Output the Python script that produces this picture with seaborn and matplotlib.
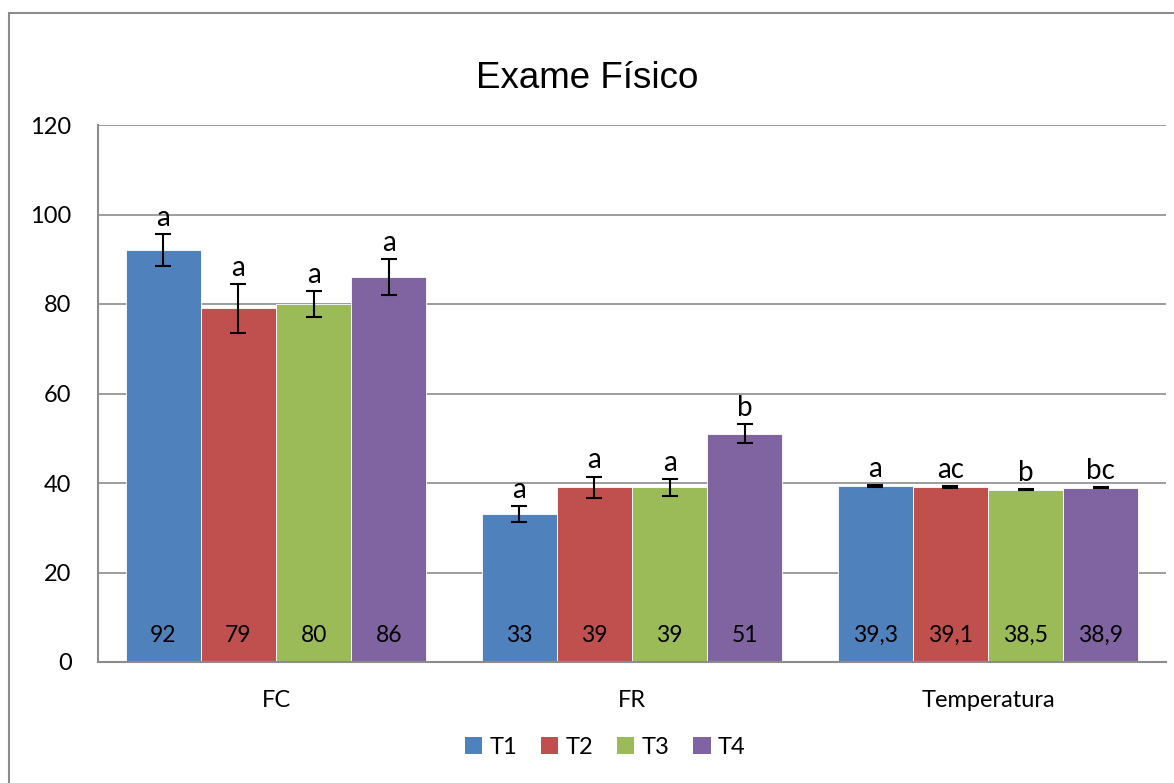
import matplotlib
matplotlib.use("Agg")
import matplotlib.pyplot as plt
import seaborn as sns
import pandas as pd
from matplotlib.patches import Rectangle, Patch

categories = ["FC", "FR", "Temperatura"]
treatments = ["T1", "T2", "T3", "T4"]
fc_values = [92, 79, 80, 86]
fr_values = [33, 39, 39, 51]
temp_values = [39.3, 39.1, 38.5, 38.9]
fc_err = [3.6, 5.5, 2.8, 4.0]
fr_err = [1.8, 2.4, 1.9, 2.1]
temp_err = [0.15, 0.12, 0.1, 0.12]
fc_letters = ["a", "a", "a", "a"]
fr_letters = ["a", "a", "a", "b"]
temp_letters = ["a", "ac", "b", "bc"]
value_labels_fc = ["92", "79", "80", "86"]
value_labels_fr = ["33", "39", "39", "51"]
value_labels_temp = ["39,3", "39,1", "38,5", "38,9"]
colors = ["#4F81BD", "#C0504D", "#9BBB59", "#8064A2"]

rows = []
groups = [(fc_values, fc_err, fc_letters, value_labels_fc),
          (fr_values, fr_err, fr_letters, value_labels_fr),
          (temp_values, temp_err, temp_letters, value_labels_temp)]
for cat, (vals, errs, lets, labs) in zip(categories, groups):
    for t, v, e, l, lab in zip(treatments, vals, errs, lets, labs):
        rows.append(dict(cat=cat, trat=t, val=v, err=e, letter=l, label=lab))
df = pd.DataFrame(rows)

sns.set_theme(style="white")
plt.rcParams['font.family'] = ['Lato', 'DejaVu Sans']
plt.rcParams['text.color'] = 'black'
plt.rcParams['xtick.color'] = 'black'
plt.rcParams['ytick.color'] = 'black'

fig = plt.figure(figsize=(11.74, 7.83), dpi=100)
ax = fig.add_axes([98/1174, 1-662/783, (1166-98)/1174, (662-125)/783])

sns.barplot(data=df, x="cat", y="val", hue="trat", order=categories,
            hue_order=treatments, palette=colors, width=0.845, gap=0,
            errorbar=None, saturation=1, ax=ax, legend=False,
            edgecolor="white", linewidth=0.6)

# error bars, letters, value labels from the bar patches
bars = [p for p in ax.patches]
for i, t in enumerate(treatments):
    for j, cat in enumerate(categories):
        p = bars[i * len(categories) + j]
        row = df[(df.cat == cat) & (df.trat == t)].iloc[0]
        xc = p.get_x() + p.get_width() / 2
        h = p.get_height()
        ax.errorbar(xc, h, yerr=row.err, fmt="none", ecolor="black",
                    elinewidth=1.5, capsize=6, capthick=1.5, zorder=5)
        ax.annotate(row.letter, (xc, h + row.err), xytext=(0, 6),
                    textcoords="offset points", ha="center", va="baseline",
                    fontsize=20, color="black")
        ax.text(xc, 6, row.label, ha="center", va="center", fontsize=16.5,
                color="black")

ax.set_ylim(0, 120)
ax.set_xlim(-0.5, 2.5)
ax.set_yticks([0, 20, 40, 60, 80, 100, 120])
ax.yaxis.grid(True, color="#8C8C8C", linewidth=1.2)
ax.set_axisbelow(True)
ax.set_xlabel("")
ax.set_ylabel("")
for s in ["top", "right"]:
    ax.spines[s].set_visible(False)
for s in ["left", "bottom"]:
    ax.spines[s].set_color("#8C8C8C")
    ax.spines[s].set_linewidth(1.5)
ax.tick_params(axis="y", length=0, pad=19, labelsize=17)
ax.tick_params(axis="x", length=0, pad=20, labelsize=17)

fig.text(0.5, 1 - 78/783, "Exame Físico", ha="center", va="center",
         fontsize=26.5, color="black", family=["Liberation Sans", "DejaVu Sans"])

handles = [Patch(facecolor=c, edgecolor="none") for c in colors]
fig.legend(handles, treatments, loc="center", bbox_to_anchor=(605/1174, 1 - 747/783),
           ncol=4, frameon=False, fontsize=17, handlelength=0.75, handleheight=0.75,
           handletextpad=0.3, columnspacing=1.0)

fig.add_artist(Rectangle((9/1174, -0.05), 1.2, 1.05 - 13/783,
                         transform=fig.transFigure, fill=False,
                         edgecolor="#8C8C8C", linewidth=1.5))

fig.savefig("out.png", dpi=100)
